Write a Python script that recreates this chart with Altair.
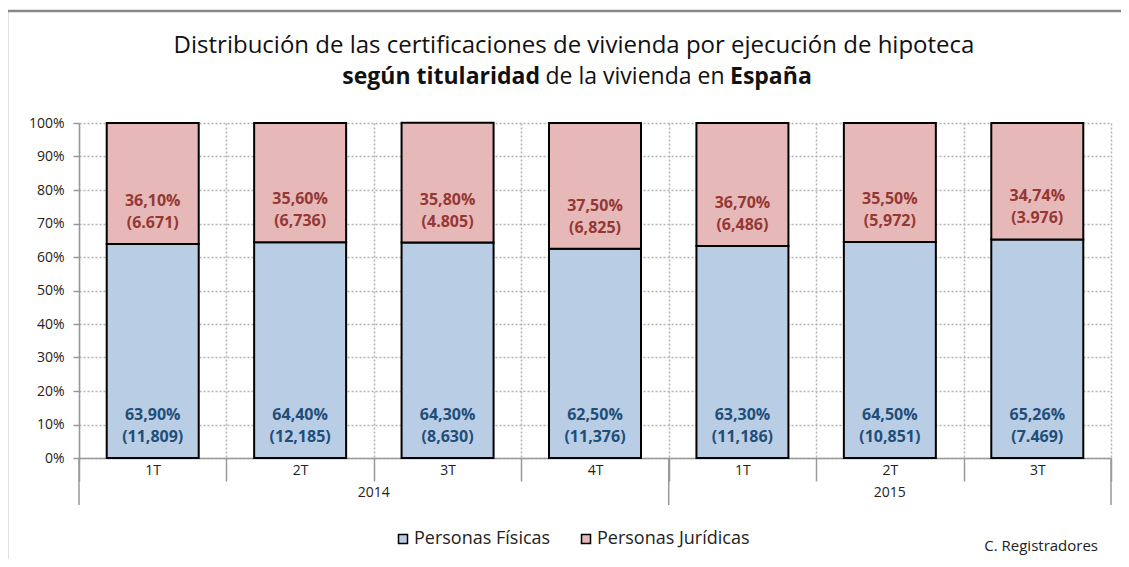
import altair as alt
import pandas as pd

# ---- data ----
periodos = ["1T", "2T", "3T", "4T", "1T", "2T", "3T"]
anios = ["2014", "2014", "2014", "2014", "2015", "2015", "2015"]
pct_fisicas = [63.90, 64.40, 64.30, 62.50, 63.30, 64.50, 65.26]
pct_juridicas = [36.10, 35.60, 35.80, 37.50, 36.70, 35.50, 34.74]
num_fisicas = ["(11,809)", "(12,185)", "(8,630)", "(11,376)", "(11,186)", "(10,851)", "(7.469)"]
num_juridicas = ["(6.671)", "(6,736)", "(4.805)", "(6,825)", "(6,486)", "(5,972)", "(3.976)"]
series = ["Personas Físicas", "Personas Jurídicas"]
y_ticks = [0, 10, 20, 30, 40, 50, 60, 70, 80, 90, 100]

# ---- styles ----
FONT = "Open Sans"
bar_fill = ["#b9cde5", "#e6b9b8"]
label_color = ["#1f4e79", "#953735"]
W, H = 1032, 335

keys = [f"{a}-{p}" for a, p in zip(anios, periodos)]
rows = []
for i, k in enumerate(keys):
    for s, (pcts, nums) in enumerate([(pct_fisicas, num_fisicas), (pct_juridicas, num_juridicas)]):
        rows.append({"key": k, "serie": series[s], "orden": s, "pct": pcts[i], "num": nums[i]})
df = pd.DataFrame(rows)

x_axis = alt.Axis(
    title=None,
    labelExpr="split(datum.value, '-')[1]",
    tickBand="extent",
    tickSize=23,
    tickColor="#999999",
    tickWidth=1.5,
    domainColor="#999999",
    domainWidth=1.5,
    grid=True,
    gridDash=[2, 2],
    gridColor="#b4b4b4",
    gridWidth=1.5,
    labelFont=FONT,
    labelFontSize=14,
    labelColor="#222222",
    labelPadding=-18,
    labelAngle=0,
)
y_axis = alt.Axis(
    title=None,
    values=y_ticks,
    labelExpr="datum.value + '%'",
    labelOverlap=False,
    tickSize=6,
    tickColor="#999999",
    tickWidth=1.5,
    domainColor="#999999",
    domainWidth=1.5,
    grid=True,
    gridDash=[2, 2],
    gridColor="#b4b4b4",
    gridWidth=1.5,
    labelFont=FONT,
    labelFontSize=14,
    labelColor="#222222",
    labelPadding=9,
)
x_scale = alt.Scale(paddingInner=0, paddingOuter=0)
y_scale = alt.Scale(domain=[0, 100], nice=False)

def X(**kw):
    return alt.X("key:N", sort=keys, scale=x_scale, axis=x_axis, **kw)

def Y():
    return alt.Y("v0:Q", scale=y_scale, axis=y_axis)

base = alt.Chart(df).transform_stack(
    stack="pct", groupby=["key"], as_=["v0", "v1"], sort=[alt.SortField("orden")]
)

bars = base.mark_bar(width={"band": 0.624}, stroke="black", strokeWidth=2).encode(
    x=X(),
    y=Y(),
    y2="v1:Q",
    color=alt.Color(
        "serie:N",
        scale=alt.Scale(domain=series, range=bar_fill),
        legend=alt.Legend(
            title=None,
            orient="none",
            direction="horizontal",
            legendX=315,
            legendY=407,
            symbolType="square",
            symbolSize=81,
            symbolStrokeColor="black",
            symbolStrokeWidth=1.5,
            symbolOpacity=1,
            labelFont=FONT,
            labelFontSize=18,
            labelColor="#222222",
            labelOffset=2,
            columnPadding=26,
            padding=0,
        ),
    ),
    order=alt.Order("orden:Q"),
)

pct_label = base.transform_calculate(
    pct_txt="replace(format(datum.pct, '.2f'), '.', ',') + '%'"
)

line1 = pct_label.mark_text(font=FONT, fontSize=16, fontWeight="bold", baseline="middle", dy=-43).encode(
    x=X(), y=Y(), text="pct_txt:N",
    color=alt.Color("serie:N", scale=alt.Scale(domain=series, range=label_color), legend=None),
)
line2 = base.mark_text(font=FONT, fontSize=16, fontWeight="bold", baseline="middle", dy=-21).encode(
    x=X(), y=Y(), text="num:N",
    color=alt.Color("serie:N", scale=alt.Scale(domain=series, range=label_color), legend=None),
)

# year group separators and labels
sep_df = pd.DataFrame({"key": [keys[0], keys[4]]})
sep_left = alt.Chart(sep_df).mark_rule(color="#999999", strokeWidth=1.5).encode(
    x=X(bandPosition=0), y=alt.value(H), y2=alt.value(H + 47)
)
sep_right = alt.Chart(pd.DataFrame({"key": [keys[-1]]})).mark_rule(color="#999999", strokeWidth=1.5).encode(
    x=X(bandPosition=1), y=alt.value(H), y2=alt.value(H + 47)
)
year_2014 = alt.Chart(pd.DataFrame({"key": [keys[2]], "anio": [anios[0]]})).mark_text(
    font=FONT, fontSize=14, color="#222222", baseline="middle"
).encode(x=X(bandPosition=0), y=alt.value(H + 35), text="anio:N")
year_2015 = alt.Chart(pd.DataFrame({"key": [keys[5]], "anio": [anios[5]]})).mark_text(
    font=FONT, fontSize=14, color="#222222", baseline="middle"
).encode(x=X(bandPosition=0.5), y=alt.value(H + 35), text="anio:N")

# titles
one = pd.DataFrame({"t": [""]})
title1 = alt.Chart(one).mark_text(font=FONT, fontSize=24, color="#111111", align="center", baseline="middle").encode(
    x=alt.value(495), y=alt.value(-77), text=alt.value("Distribución de las certificaciones de vivienda por ejecución de hipoteca")
)
t2a = alt.Chart(one).mark_text(font=FONT, fontSize=23, fontWeight="bold", color="#111111", align="right", baseline="middle").encode(
    x=alt.value(461), y=alt.value(-46), text=alt.value("según titularidad")
)
t2b = alt.Chart(one).mark_text(font=FONT, fontSize=23, color="#111111", align="center", baseline="middle").encode(
    x=alt.value(556), y=alt.value(-46), text=alt.value("de la vivienda en")
)
t2c = alt.Chart(one).mark_text(font=FONT, fontSize=23, fontWeight="bold", color="#111111", align="left", baseline="middle").encode(
    x=alt.value(651), y=alt.value(-46), text=alt.value("España")
)
source = alt.Chart(one).mark_text(font=FONT, fontSize=15, color="#222222", align="right", baseline="middle").encode(
    x=alt.value(1019), y=alt.value(423), text=alt.value("C. Registradores")
)
border = alt.Chart(one).mark_rect(fill="white", fillOpacity=0, stroke="#888888", strokeWidth=2.5).encode(
    x=alt.value(-72), x2=alt.value(1100), y=alt.value(-112), y2=alt.value(700)
)

chart = alt.layer(
    border, bars, line1, line2, sep_left, sep_right, year_2014, year_2015,
    title1, t2a, t2b, t2c, source,
).resolve_scale(color="independent").properties(
    width=W, height=H,
    autosize=alt.AutoSizeParams(type="none"),
    padding={"left": 71, "top": 115, "right": 10, "bottom": 101},
    background="white",
).configure_view(stroke=None).configure_axisY(labelOverlap=False)

chart.save("out.html", embed_options={"renderer": "svg", "actions": False})
